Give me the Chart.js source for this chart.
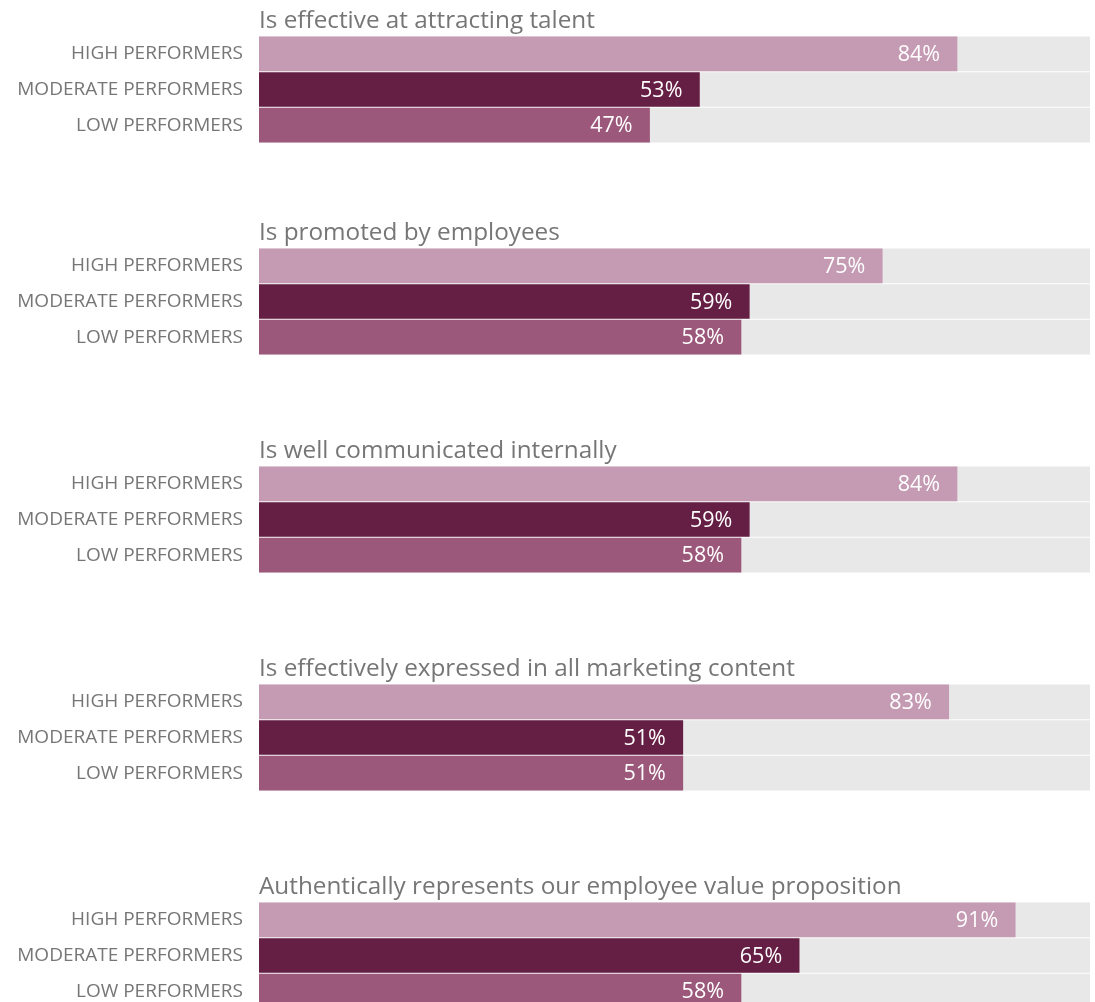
<!DOCTYPE html>
<html>
<head>
<meta charset="utf-8">
<script src="https://cdn.jsdelivr.net/npm/chart.js@4.4.1/dist/chart.umd.min.js"></script>
<style>
    html, body {
        margin: 0;
        padding: 0;
        background: #fff;
        overflow: hidden;
    }
    #charts {
        position: relative;
        width: 1095px;
        height: 1002px;
    }
    .group {
        position: absolute;
        left: 0;
    }
    .group canvas {
        display: block;
    }
</style>
</head>
<body>
<div id="charts"></div>

<script>
// ---- Données ----
const questions = [
    'Is effective at attracting talent',
    'Is promoted by employees',
    'Is well communicated internally',
    'Is effectively expressed in all marketing content',
    'Authentically represents our employee value proposition'
];

const performers = ['HIGH PERFORMERS', 'MODERATE PERFORMERS', 'LOW PERFORMERS'];

const highPerformers     = [84, 75, 84, 83, 91];
const moderatePerformers = [53, 59, 59, 51, 65];
const lowPerformers      = [47, 58, 58, 51, 58];

const scaleMax = 100;

// ---- Mise en page ----
const groupTops   = [0, 212, 430, 648, 866];
const groupWidth  = 1095;
const groupHeight = 150;
const barColors   = ['#c59bb4', '#661f44', '#9c587b'];
const trackColor  = '#e8e8e8';
const textGray    = '#767676';
const fontFamily  = "'Open Sans', 'Noto Sans', sans-serif";

// Titre de la question, aligné sur le bord gauche des barres
const questionTitle = {
    id: 'questionTitle',
    afterDraw(chart, args, opts) {
        const { ctx, chartArea } = chart;
        ctx.save();
        ctx.font = `24.3px ${fontFamily}`;
        ctx.fillStyle = textGray;
        ctx.textAlign = 'left';
        ctx.textBaseline = 'alphabetic';
        ctx.fillText(opts.text, chartArea.left, chartArea.top - 8);
        ctx.restore();
    }
};

// Étiquette de valeur en blanc, alignée à droite dans la barre
const valueLabels = {
    id: 'valueLabels',
    afterDatasetsDraw(chart) {
        const { ctx } = chart;
        const meta = chart.getDatasetMeta(0);
        const data = chart.data.datasets[0].data;
        ctx.save();
        ctx.font = `21.5px ${fontFamily}`;
        ctx.fillStyle = '#ffffff';
        ctx.textAlign = 'right';
        ctx.textBaseline = 'middle';
        meta.data.forEach((bar, i) => {
            ctx.fillText(`${data[i]}%`, bar.x - 17, bar.y + 1);
        });
        ctx.restore();
    }
};

const container = document.getElementById('charts');

questions.forEach((question, g) => {
    const wrap = document.createElement('div');
    wrap.className = 'group';
    wrap.style.top = groupTops[g] + 'px';
    const canvas = document.createElement('canvas');
    canvas.width = groupWidth;
    canvas.height = groupHeight;
    wrap.appendChild(canvas);
    container.appendChild(wrap);

    const values = [highPerformers[g], moderatePerformers[g], lowPerformers[g]];

    new Chart(canvas, {
        type: 'bar',
        data: {
            labels: performers,
            datasets: [
                {
                    data: values,
                    backgroundColor: barColors,
                    borderWidth: 0,
                    barThickness: 34
                },
                {
                    // fond gris jusqu'à 100 %
                    data: performers.map(() => scaleMax),
                    backgroundColor: trackColor,
                    borderWidth: 0,
                    barThickness: 34
                }
            ]
        },
        options: {
            indexAxis: 'y',
            responsive: false,
            animation: false,
            events: [],
            grouped: false,
            layout: {
                padding: { top: 36, right: 5, bottom: 7, left: 0 }
            },
            plugins: {
                legend: { display: false },
                tooltip: { enabled: false },
                questionTitle: { text: question }
            },
            scales: {
                x: {
                    display: false,
                    min: 0,
                    max: scaleMax
                },
                y: {
                    border: { display: false },
                    grid: { display: false, drawTicks: false },
                    ticks: {
                        color: textGray,
                        padding: 16,
                        font: { family: fontFamily, size: 19 }
                    },
                    afterFit: (scale) => {
                        // largeur fixe pour les libellés, sans marge verticale ajoutée
                        scale.width = 259;
                        scale.paddingTop = 0;
                        scale.paddingBottom = 0;
                    }
                }
            }
        },
        plugins: [valueLabels, questionTitle]
    });
});
</script>
</body>
</html>
